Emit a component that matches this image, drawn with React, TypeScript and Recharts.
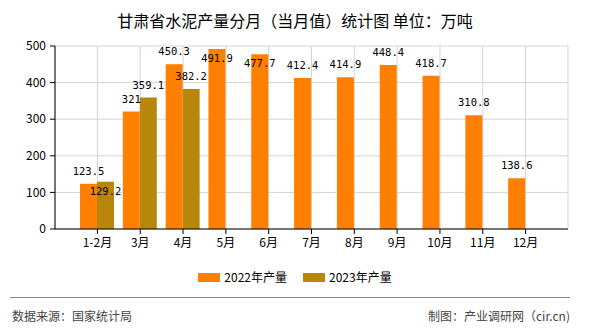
import { BarChart, Bar, XAxis, YAxis, CartesianGrid, LabelList } from "recharts";

const months = ["1-2月", "3月", "4月", "5月", "6月", "7月", "8月", "9月", "10月", "11月", "12月"];
const output2022 = [123.5, 321, 450.3, 491.9, 477.7, 412.4, 414.9, 448.4, 418.7, 310.8, 138.6];
const output2023 = [129.2, 359.1, 382.2, null, null, null, null, null, null, null, null];
const seriesNames = ["2022年产量", "2023年产量"];
const seriesColors = ["#FF8000", "#B8860B"];
const yTicks = [0, 100, 200, 300, 400, 500];

const FONT = '"Noto Sans CJK SC", "DejaVu Sans", sans-serif';
const PLOT_TOP = 46;

const data = months.map((m, i) => ({ month: m, v2022: output2022[i], v2023: output2023[i] }));

// value labels sit above the bar, or drop inside the bar top when there is no room
// (top of plot) or when they would collide with the neighbour bar's label
function makeLabel(other: (number | null)[] | null) {
  return (props: any) => {
    const { x, y, width, value, index } = props;
    if (value == null) return null;
    const cx = Number(x) + Number(width) / 2;
    let baseline = Number(y) - 9;
    const o = other ? other[index] : null;
    const clash = o != null && Math.abs(o - value) < 30;
    if (baseline - 8 < PLOT_TOP || clash) baseline = Number(y) + 13;
    return (
      <text x={cx} y={baseline} textAnchor="middle" fontSize={10.5} fontFamily='"DejaVu Sans Mono", monospace' fill="#000">
        {value}
      </text>
    );
  };
}

function Legend() {
  return (
    <div style={{ position: "absolute", top: 270, left: 0, width: 590, display: "flex", justifyContent: "center", gap: 16 }}>
      {seriesNames.map((name, i) => (
        <div key={name} style={{ display: "flex", alignItems: "center" }}>
          <span style={{ display: "inline-block", width: 22, height: 9, background: seriesColors[i], marginRight: 4 }} />
          <span style={{ fontSize: 12, lineHeight: "14px", color: "#000" }}>{name}</span>
        </div>
      ))}
    </div>
  );
}

export default function App() {
  return (
    <div style={{ position: "absolute", left: 0, top: 0, width: 590, height: 330, background: "#fff", fontFamily: FONT }}>
      <div style={{ position: "absolute", top: 10, left: 0, width: 590, textAlign: "center", fontSize: 16, lineHeight: "20px", color: "#000" }}>
        甘肃省水泥产量分月（当月值）统计图 单位：万吨
      </div>
      <BarChart width={590} height={330} data={data} margin={{ top: 46, right: 22, left: 0, bottom: 71 }} barGap={0} barSize={17}>
        <CartesianGrid stroke="#d4d4d4" />
        <XAxis
          dataKey="month"
          interval={0}
          padding={{ left: 21, right: 21 }}
          tickSize={5}
          tickMargin={4}
          axisLine={{ stroke: "#000" }}
          tickLine={{ stroke: "#000" }}
          tick={{ fill: "#000", fontSize: 12, fontFamily: FONT }}
        />
        <YAxis
          width={55}
          domain={[0, 500]}
          ticks={yTicks}
          tickSize={5}
          tickMargin={4}
          axisLine={{ stroke: "#000" }}
          tickLine={{ stroke: "#000" }}
          tick={{ fill: "#000", fontSize: 12, fontFamily: FONT }}
        />
        <YAxis yAxisId="edge" orientation="right" width={0} tick={false} tickLine={false} axisLine={{ stroke: "#d4d4d4" }} />
        <Bar dataKey="v2022" name={seriesNames[0]} fill={seriesColors[0]} isAnimationActive={false}>
          <LabelList dataKey="v2022" content={makeLabel(null)} />
        </Bar>
        <Bar dataKey="v2023" name={seriesNames[1]} fill={seriesColors[1]} isAnimationActive={false}>
          <LabelList dataKey="v2023" content={makeLabel(output2022)} />
        </Bar>
      </BarChart>
      <Legend />
      <div style={{ position: "absolute", left: 10, top: 297, width: 560, height: 1, background: "#888" }} />
      <div style={{ position: "absolute", left: 12, top: 309, fontSize: 12, lineHeight: "14px", color: "#444" }}>数据来源：国家统计局</div>
      <div style={{ position: "absolute", right: 20, top: 309, fontSize: 12, lineHeight: "14px", color: "#444" }}>制图：产业调研网（cir.cn)</div>
    </div>
  );
}
